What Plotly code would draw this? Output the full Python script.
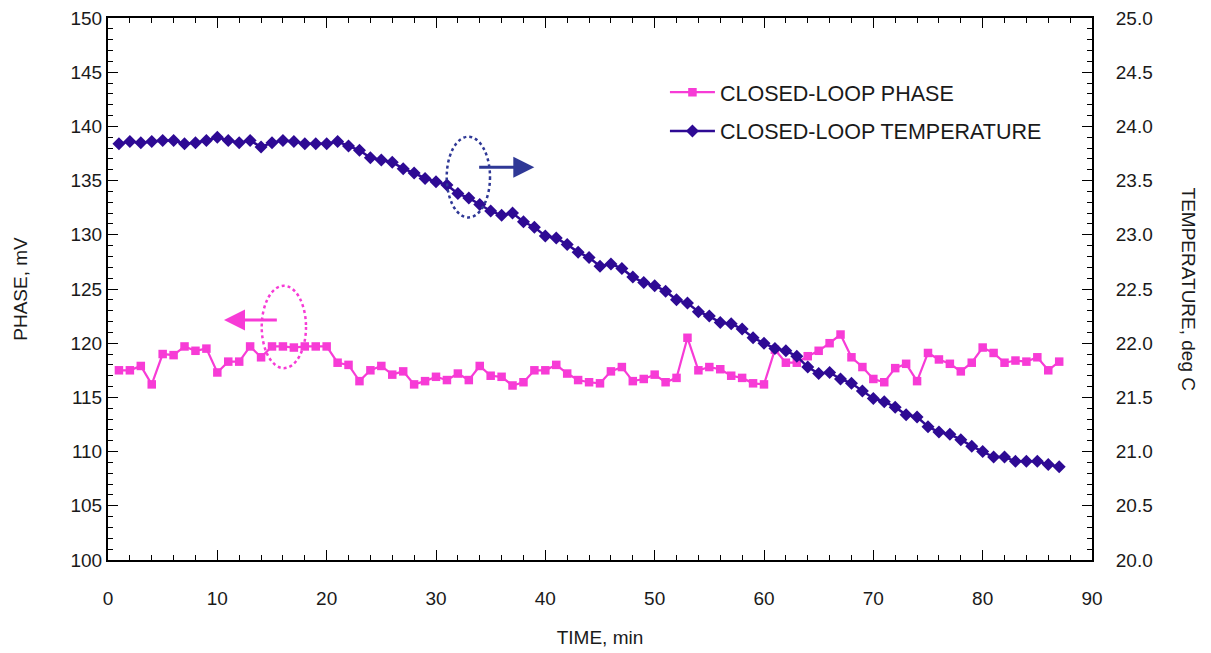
import plotly.graph_objects as go

time_min = list(range(1, 88))

phase_mv = [117.5, 117.5, 117.9, 116.2, 119.0, 118.9, 119.7, 119.3, 119.5, 117.3,
            118.3, 118.3, 119.7, 118.7, 119.7, 119.7, 119.6, 119.7, 119.7, 119.7,
            118.2, 118.0, 116.5, 117.5, 117.9, 117.1, 117.4, 116.2, 116.5, 116.9,
            116.6, 117.2, 116.6, 117.9, 117.0, 116.9, 116.1, 116.4, 117.5, 117.5,
            118.0, 117.2, 116.6, 116.4, 116.3, 117.4, 117.8, 116.5, 116.7, 117.1,
            116.4, 116.8, 120.5, 117.5, 117.8, 117.6, 117.0, 116.8, 116.3, 116.2,
            119.4, 118.2, 118.2, 118.8, 119.3, 120.0, 120.8, 118.7, 117.8, 116.7,
            116.4, 117.7, 118.1, 116.5, 119.1, 118.5, 118.1, 117.4, 118.2, 119.6,
            119.1, 118.2, 118.4, 118.3, 118.7, 117.5, 118.3]

temperature_c = [23.84, 23.86, 23.85, 23.86, 23.87, 23.87, 23.84, 23.85, 23.87, 23.90,
                 23.87, 23.85, 23.87, 23.81, 23.85, 23.87, 23.86, 23.84, 23.84, 23.84,
                 23.86, 23.82, 23.78, 23.71, 23.69, 23.67, 23.61, 23.57, 23.52, 23.49,
                 23.46, 23.38, 23.34, 23.28, 23.22, 23.18, 23.20, 23.12, 23.07, 22.99,
                 22.97, 22.91, 22.84, 22.79, 22.71, 22.73, 22.69, 22.61, 22.56, 22.53,
                 22.48, 22.40, 22.37, 22.29, 22.25, 22.19, 22.18, 22.13, 22.05, 22.00,
                 21.95, 21.93, 21.88, 21.78, 21.72, 21.73, 21.67, 21.63, 21.56, 21.49,
                 21.46, 21.41, 21.34, 21.32, 21.23, 21.18, 21.16, 21.11, 21.05, 21.00,
                 20.95, 20.95, 20.91, 20.91, 20.91, 20.88, 20.86]

x_ticks = [0, 10, 20, 30, 40, 50, 60, 70, 80, 90]

PINK = "#f73bd6"
INDIGO = "#2e0a94"
NAVY = "#2f3896"
FONT = "Liberation Sans, Arial, Helvetica, sans-serif"
TXT = "#1a1a1a"

fig = go.Figure()
fig.add_trace(go.Scatter(
    x=time_min, y=phase_mv, name="CLOSED-LOOP PHASE", mode="lines+markers",
    line=dict(color=PINK, width=2.2), marker=dict(symbol="square", size=8.5, color=PINK),
    legendgroup="a", yaxis="y"))
fig.add_trace(go.Scatter(
    x=time_min, y=temperature_c, name="CLOSED-LOOP TEMPERATURE", mode="lines+markers",
    line=dict(color=INDIGO, width=2.5), marker=dict(symbol="diamond", size=10, color=INDIGO),
    legendgroup="b", yaxis="y2"))

axis_common = dict(showline=True, linecolor="black", linewidth=2, ticks="inside",
                   tickcolor="black", tickwidth=1.2, ticklen=10, showgrid=False,
                   zeroline=False, automargin=False, ticklabeloverflow="allow",
                   tickfont=dict(family=FONT, size=19, color=TXT))

fig.update_layout(
    width=1203, height=645,
    margin=dict(l=100, r=119, t=10, b=93),
    paper_bgcolor="white", plot_bgcolor="white",
    font=dict(family=FONT, color=TXT),
    xaxis=dict(range=[0, 90], tickvals=x_ticks, mirror="ticks", ticklabelstandoff=20,
               minor=dict(dtick=2, ticks="inside", ticklen=5, tickcolor="black", tickwidth=1.2),
               title=dict(text="TIME, min", font=dict(family=FONT, size=19, color=TXT), standoff=23),
               **axis_common),
    yaxis=dict(range=[100, 150], dtick=5,
               minor=dict(dtick=1, ticks="inside", ticklen=5, tickcolor="black", tickwidth=1.2),
               title=dict(text="PHASE, mV", font=dict(family=FONT, size=19, color=TXT), standoff=38),
               **axis_common),
    yaxis2=dict(range=[20, 25], dtick=0.5, tickformat=".1f", overlaying="y", side="right",
                ticklabelstandoff=18,
                minor=dict(dtick=0.1, ticks="inside", ticklen=5, tickcolor="black", tickwidth=1.2),
                **axis_common),
    legend=dict(x=0.566, y=0.901, xanchor="left", yanchor="top", bgcolor="rgba(0,0,0,0)",
                font=dict(family=FONT, size=21.5, color=TXT), traceorder="grouped",
                tracegroupgap=8, itemwidth=45),
    showlegend=True,
)

# right axis title (reads top to bottom)
fig.add_annotation(text="TEMPERATURE, deg C", xref="paper", yref="paper", x=1.099, y=0.5,
                   xanchor="center", yanchor="middle", textangle=90, showarrow=False,
                   font=dict(family=FONT, size=19, color=TXT))

# dotted ellipses
fig.add_shape(type="circle", xref="x", yref="y", x0=30.98, x1=34.94, y0=131.6, y1=139.05,
              line=dict(color=NAVY, width=2.5, dash="dot"))
fig.add_shape(type="circle", xref="x", yref="y", x0=14.06, x1=18.11, y0=117.7, y1=125.3,
              line=dict(color=PINK, width=2.5, dash="dot"))

# arrows
fig.add_annotation(x=38.99, y=136.23, ax=33.81, ay=136.23, xref="x", yref="y",
                   axref="x", ayref="y", showarrow=True, arrowhead=2, arrowsize=1.4,
                   arrowwidth=3, arrowcolor=NAVY, text="", standoff=0)
fig.add_annotation(x=10.61, y=122.14, ax=15.58, ay=122.14, xref="x", yref="y",
                   axref="x", ayref="y", showarrow=True, arrowhead=2, arrowsize=1.4,
                   arrowwidth=3, arrowcolor=PINK, text="", standoff=0)

fig.write_html("out.html")
